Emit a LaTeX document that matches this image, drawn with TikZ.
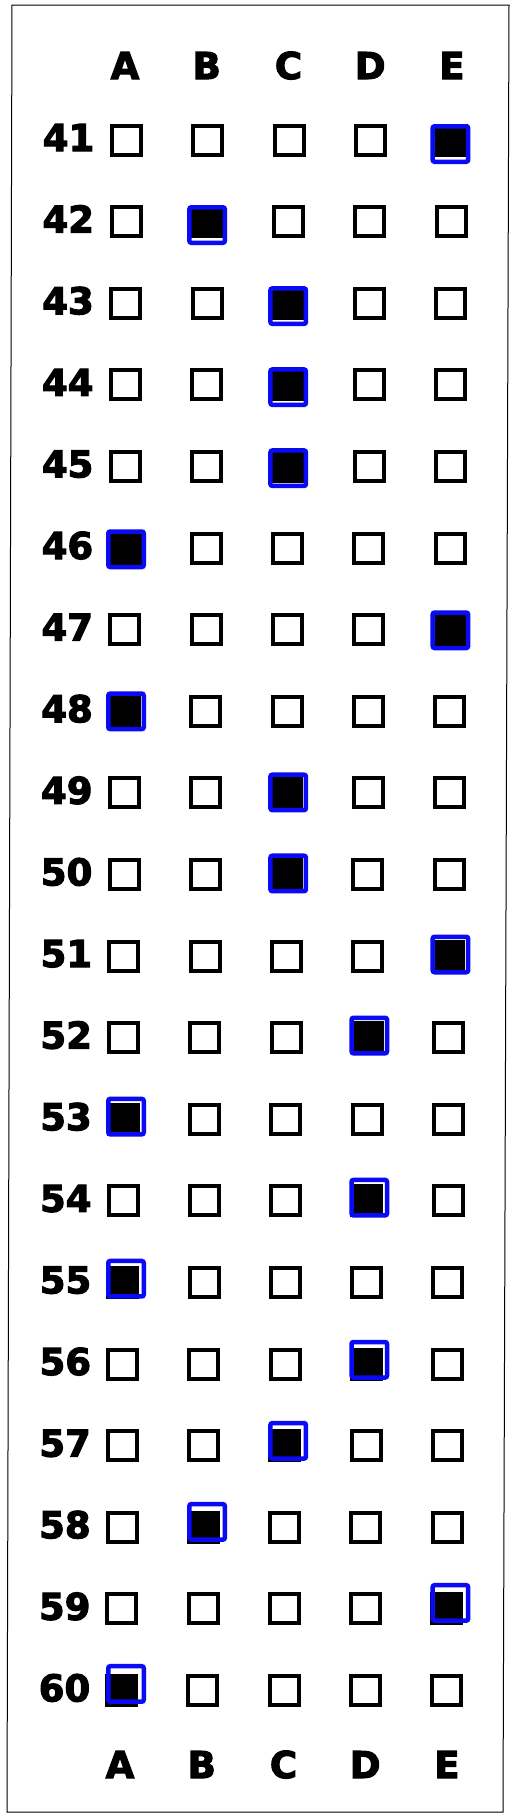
\documentclass[tikz,border=0pt]{standalone}
\usepackage{fontspec}
\setmainfont{DejaVu Sans}[BoldFeatures={FakeBold=3}]
\definecolor{markblue}{RGB}{10,10,245}
\begin{document}
\begin{tikzpicture}[x=1pt,y=-1pt,
  box/.style={draw=black,line width=4pt,minimum size=29pt,inner sep=0pt},
  answerbox/.style={draw=markblue,line width=4.5pt,minimum size=35.5pt,inner sep=0pt,rounded corners=2pt},
  lbl/.style={font=\fontsize{37}{37}\selectfont\bfseries,anchor=base,inner sep=0pt}]
\useasboundingbox (0,0) rectangle (516,1818);
\fill[white] (0,0) rectangle (516,1818);
\draw[line width=1pt] (12,5) -- (509,5) -- (503,1812) -- (7,1812) -- cycle;
\foreach \L [count=\k from 0] in {A,B,C,D,E} {
  \node[lbl] (top\L) at ({125+81.75*\k},79) {\L};
  \node[lbl] (bot\L) at ({120+81.75*\k},1778) {\L};
}
\foreach \a [count=\i from 0] in {4,1,2,2,2,0,4,0,2,2,4,3,0,3,0,3,2,1,4,0} {
  \pgfmathsetmacro\yy{140+81.6*\i}
  \pgfmathtruncatemacro\num{41+\i}
  \node[lbl] (n\num) at ({68.5-4*\i/19},{\yy+11}) {\num};
  \foreach \j in {0,...,4} {
    \pgfmathsetmacro\xx{126.5+81.25*\j-5*\i/19}
    \ifnum\j=\a\relax
      \node[box,fill=black] (b\num-\j) at (\xx,\yy) {};
      \node[answerbox] (m\num) at ({126+81.1*\j},{144+81.05*\i}) {};
    \else
      \node[box] (b\num-\j) at (\xx,\yy) {};
    \fi
  }
}
\end{tikzpicture}
\end{document}
